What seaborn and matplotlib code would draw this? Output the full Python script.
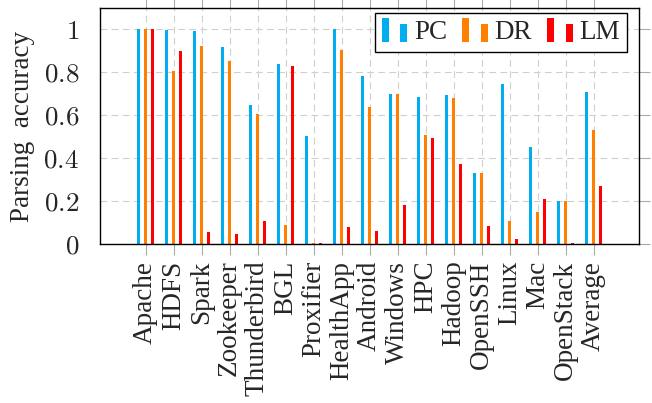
"""
Parsing accuracy per dataset for PC / DR / LM
"""
import matplotlib
matplotlib.use("Agg")
import matplotlib.pyplot as plt
import seaborn as sns
import pandas as pd
from matplotlib.legend_handler import HandlerBase
from matplotlib.patches import Rectangle, Patch
from matplotlib.ticker import FixedLocator, FixedFormatter

# Data
datasets = ['Apache', 'HDFS', 'Spark', 'Zookeeper', 'Thunderbird', 'BGL',
            'Proxifier', 'HealthApp', 'Android', 'Windows', 'HPC', 'Hadoop',
            'OpenSSH', 'Linux', 'Mac', 'OpenStack', 'Average']
pc_values = [1.0, 0.998, 0.995, 0.918, 0.647, 0.840, 0.502, 1.0, 0.785,
             0.701, 0.684, 0.696, 0.332, 0.744, 0.453, 0.200, 0.710]
dr_values = [1.0, 0.808, 0.921, 0.851, 0.605, 0.087, 0.003, 0.902, 0.637,
             0.701, 0.507, 0.682, 0.332, 0.107, 0.149, 0.200, 0.530]
lm_values = [1.0, 0.899, 0.057, 0.047, 0.108, 0.831, 0.006, 0.078, 0.060,
             0.181, 0.492, 0.372, 0.085, 0.022, 0.208, 0.006, 0.271]
methods = ['PC', 'DR', 'LM']
y_ticks = [0, 0.2, 0.4, 0.6, 0.8, 1.0]
y_tick_labels = ['$0$', '$0.2$', '$0.4$', '$0.6$', '$0.8$', '$1$']

COLORS = {'PC': '#00AEEF', 'DR': '#FF8000', 'LM': '#FF0000'}
FONT_SIZE = 19.5


class DoubleBarHandler(HandlerBase):
    """pgfplots-like ybar legend image: two small bars"""

    def create_artists(self, legend, orig_handle, xdescent, ydescent,
                       width, height, fontsize, trans):
        color = orig_handle.get_facecolor()
        bw = width * 0.28
        y0 = -ydescent - 0.15 * height
        tall = Rectangle((-xdescent, y0), bw, height * 1.25,
                         facecolor=color, edgecolor='none', transform=trans)
        short = Rectangle((-xdescent + width - bw, y0), bw, height * 0.95,
                          facecolor=color, edgecolor='none', transform=trans)
        return [tall, short]


def build_frame():
    """Long-format table for seaborn"""
    rows = []
    for name, values in zip(methods, [pc_values, dr_values, lm_values]):
        for ds, v in zip(datasets, values):
            rows.append({'dataset': ds, 'method': name, 'value': v})
    return pd.DataFrame(rows)


def main():
    sns.set_theme(style='white')
    plt.rcParams['font.family'] = ['Liberation Serif', 'DejaVu Serif']
    plt.rcParams['mathtext.fontset'] = 'cm'

    df = build_frame()

    fig = plt.figure(figsize=(6.52, 4.03), dpi=100)
    ax = fig.add_axes([100 / 652, 1 - 244 / 403, 539 / 652, 236 / 403])

    sns.barplot(data=df, x='dataset', y='value', hue='method',
                order=datasets, hue_order=methods, palette=COLORS,
                saturation=1, width=0.78, gap=0.56, linewidth=0,
                legend=False, ax=ax)

    ax.set_xlim(-1.625, len(datasets) - 1 + 1.625)
    ax.set_ylim(0, 1.1)
    ax.yaxis.set_major_locator(FixedLocator(y_ticks))
    ax.yaxis.set_major_formatter(FixedFormatter(y_tick_labels))

    # dashed grid
    ax.set_axisbelow(True)
    ax.grid(True, color='#cfcfcf', linestyle=(0, (6, 4)), linewidth=0.8)

    for spine in ax.spines.values():
        spine.set_color('black')
        spine.set_linewidth(1.0)

    ax.tick_params(axis='x', direction='out', bottom=True, top=True,
                   length=8, width=0.8, color='#aaaaaa', pad=4,
                   labelsize=FONT_SIZE, labelrotation=90)
    ax.tick_params(axis='y', direction='out', left=False, right=True,
                   length=8, width=0.8, color='#aaaaaa', pad=7,
                   labelsize=FONT_SIZE)

    ax.set_xlabel('')
    ax.set_ylabel('Parsing  accuracy', fontsize=FONT_SIZE, labelpad=6)

    handles = [Patch(facecolor=COLORS[m]) for m in methods]
    leg = ax.legend(handles, methods, loc='upper right',
                    bbox_to_anchor=(527 / 539, 1 - 5 / 236),
                    borderaxespad=0, ncol=3, fontsize=FONT_SIZE,
                    frameon=True, fancybox=False, framealpha=1,
                    edgecolor='black', handlelength=0.95,
                    handletextpad=0.25, columnspacing=0.55,
                    borderpad=0.25,
                    handler_map={Patch: DoubleBarHandler()})
    leg.get_frame().set_linewidth(1.0)

    fig.savefig('out.png', dpi=100)
    plt.close(fig)


if __name__ == "__main__":
    main()
